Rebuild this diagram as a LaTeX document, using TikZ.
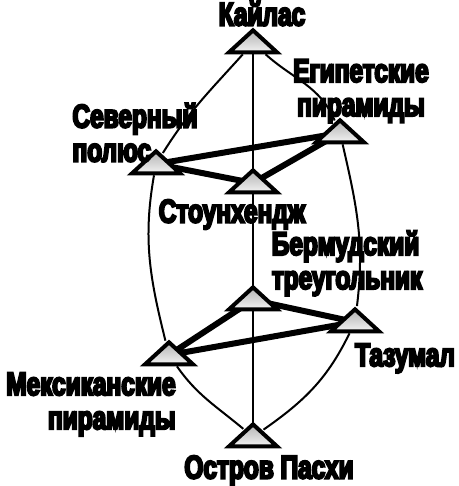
\documentclass[tikz,border=0pt]{standalone}
\usepackage{fontspec}
\newfontfamily\lblfont{Liberation Sans Bold}[FakeStretch=0.74,FakeBold=6]
\usepackage{tikz}
\usetikzlibrary{positioning}
\usetikzlibrary{shapes.geometric,backgrounds}
\tikzset{pyr/.style={draw=black, line width=4pt, isosceles triangle, isosceles triangle stretches, shape border rotate=90, minimum width=48pt, minimum height=22pt, inner sep=0pt, top color=black!30, bottom color=black!5}}
\tikzset{lbl/.style={font=\lblfont\fontsize{33}{34}\selectfont, inner sep=0pt}}
\tikzset{spine/.style={line width=2.4pt}, rim/.style={line width=2pt}, tie/.style={line width=6pt}}

\begin{document}
\begin{tikzpicture}[x=1pt, y=1pt]
		\useasboundingbox (0,0) rectangle (458,-486);
		\node[pyr] (kai) at (253,-43) {};
		\node[pyr] (egy) at (340,-133) {};
		\node[pyr] (npo) at (156,-164) {};
		\node[pyr] (sto) at (253,-183) {};
		\node[pyr] (ber) at (253,-300) {};
		\node[pyr] (taz) at (355,-322) {};
		\node[pyr] (mex) at (169,-355) {};
		\node[pyr] (eas) at (253,-437) {};
		
		\node[lbl] (kaiT) [above=-1pt of kai, xshift=9pt] {Кайлас};
		\node[lbl, align=center] (egyT) [above=-8pt of egy, xshift=21pt] {Египетские\\пирамиды};
		\node[lbl, align=left] (npoT) [above=-16pt of npo, xshift=-21pt] {Северный\\полюс};
		\node[lbl] (stoT) [below=5pt of sto, xshift=-21pt] {Стоунхендж};
		\node[lbl, align=left] (berT) [above=-14pt of ber, xshift=94pt] {Бермудский\\треугольник};
		\node[lbl] (tazT) [below=10pt of taz, xshift=50pt] {Тазумал};
		\node[lbl, align=right] (mexT) [below=6pt of mex, xshift=-78pt] {Мексиканские\\пирамиды};
		\node[lbl] (easT) [below=7pt of eas, xshift=16pt] {Остров Пасхи};
		
		\begin{scope}[on background layer]
			\draw[spine] (kai.center) -- (sto.center) -- (ber.center) -- (eas.center);
			\draw[tie] (npo.center) -- (egy.center) (npo.center) -- (sto.center) -- (egy.center);
			\draw[tie] (ber.center) -- (taz.center) (ber.center) -- (mex.center) -- (taz.center);
			\draw[rim] (kai) to[out=228, in=58] (npo) to[out=260, in=104] (mex) to[out=305, in=140] (eas);
			\draw[rim] (kai) to[out=318, in=113] (egy) to[out=283, in=83] (taz) to[out=244, in=35] (eas);
		\end{scope}
	\end{tikzpicture}
\end{document}
